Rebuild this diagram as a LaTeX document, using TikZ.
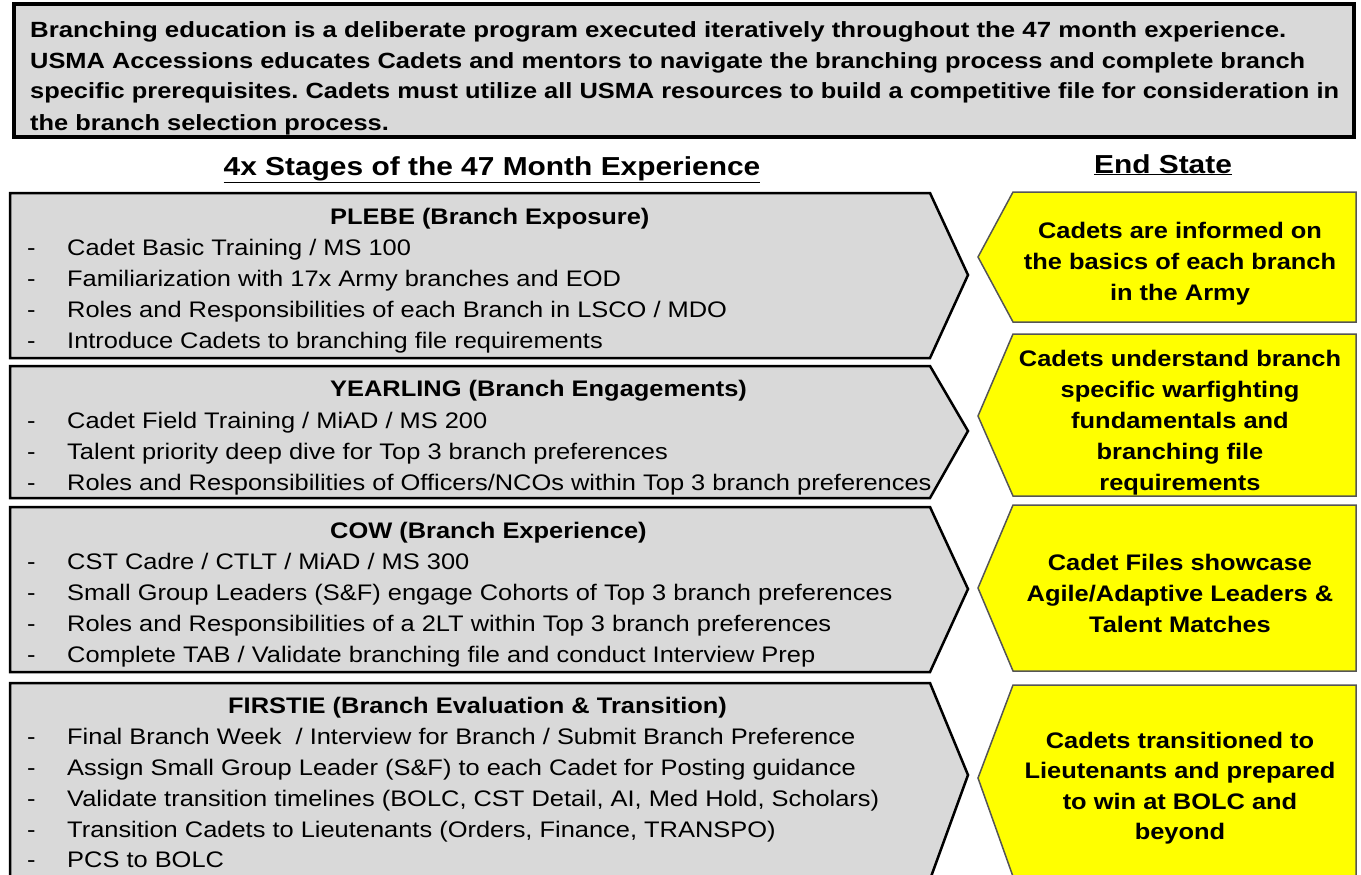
\documentclass[tikz,border=0pt]{standalone}
\usepackage{fontspec}
\setmainfont{Liberation Sans}[FakeStretch=1.13]
\newfontfamily\widefont{Liberation Sans}[FakeStretch=1.173]
\newfontfamily\wideBfont{Liberation Sans}[FakeStretch=1.155]
\newfontfamily\midfont{Liberation Sans}[FakeStretch=1.15]
\frenchspacing
\definecolor{boxgray}{HTML}{D9D9D9}
\definecolor{ydraw}{HTML}{555555}
\definecolor{ybox}{HTML}{FFFF00}
\tikzset{
  gbox/.style={fill=boxgray, draw=black, line width=2.5pt, line join=miter},
  ybox/.style={fill=ybox, draw=ydraw, line width=1.5pt, line join=miter},
  topbox/.style={fill=boxgray, draw=black, line width=4pt},
  topline/.style={anchor=base west, inner sep=0pt, font=\wideBfont\fontsize{22}{26}\selectfont\bfseries},
  toplinewide/.style={anchor=base west, inner sep=0pt, font=\widefont\fontsize{22}{26}\selectfont\bfseries},
  heading/.style={anchor=base, inner sep=0pt, font=\midfont\fontsize{26}{30}\selectfont\bfseries},
  itemtext/.style={anchor=base west, inner sep=0pt, font=\fontsize{22.5}{27}\selectfont},
  dashmark/.style={anchor=base west, inner sep=0pt, font=\fontsize{22.5}{27}\selectfont},
  stitle/.style={anchor=base west, inner sep=0pt, font=\fontsize{22.5}{27}\selectfont\bfseries},
  ytext/.style={anchor=base, inner sep=0pt, font=\fontsize{22.5}{27}\selectfont\bfseries},
}
\newcommand{\itm}[3]{%
  \node[dashmark] (#1d) at (27,#2) {-};
  \node[itemtext] (#1) at (67,#2) {#3};}
\begin{document}
\begin{tikzpicture}[x=1pt,y=-1pt]
\useasboundingbox (0,0) rectangle (1361,875);
\clip (0,0) rectangle (1361,875);

% top box
\draw[topbox] (14,4) rectangle (1354,137);
\node[toplinewide] (t1) at (30,38) {Branching education is a deliberate program executed iteratively throughout the 47 month experience.};
\node[topline] (t2) at (30,69) {USMA Accessions educates Cadets and mentors to navigate the branching process and complete branch};
\node[topline] (t3) at (30,99) {specific prerequisites. Cadets must utilize all USMA resources to build a competitive file for consideration in};
\node[topline] (t4) at (30,130) {the branch selection process.};

% headings
\node[heading] (h1) at (492,175) {\underline{4x Stages of the 47 Month Experience}};
\node[heading] (h2) at (1163,173) {\underline{End State}};

% gray stage arrows
\draw[gbox] (10,193) -- (930,193) -- (968,275) -- (930,358) -- (10,358) -- cycle;
\draw[gbox] (10,366) -- (930,366) -- (968,431) -- (930,498) -- (10,498) -- cycle;
\draw[gbox] (10,507) -- (930,507) -- (968,589) -- (930,672) -- (10,672) -- cycle;
\draw[gbox] (10,683) -- (930,683) -- (968,775) -- (928,885) -- (10,885) -- cycle;

% yellow end-state arrows
\draw[ybox] (1013,192) -- (1356,192) -- (1356,322) -- (1013,322) -- (978,257) -- cycle;
\draw[ybox] (1013,334) -- (1356,334) -- (1356,496) -- (1013,496) -- (978,416) -- cycle;
\draw[ybox] (1013,505) -- (1356,505) -- (1356,671) -- (1013,671) -- (978,588) -- cycle;
\draw[ybox] (1013,685) -- (1356,685) -- (1356,885) -- (1016,885) -- (978,778) -- cycle;

% PLEBE
\node[stitle] (s1) at (330,224) {PLEBE (Branch Exposure)};
\itm{a1}{255}{Cadet Basic Training / MS 100}
\itm{a2}{286}{Familiarization with 17x Army branches and EOD}
\itm{a3}{317}{Roles and Responsibilities of each Branch in LSCO / MDO}
\itm{a4}{348}{Introduce Cadets to branching file requirements}

% YEARLING
\node[stitle] (s2) at (330,396) {YEARLING (Branch Engagements)};
\itm{b1}{428}{Cadet Field Training / MiAD / MS 200}
\itm{b2}{459}{Talent priority deep dive for Top 3 branch preferences}
\itm{b3}{490}{Roles and Responsibilities of Officers/NCOs within Top 3 branch preferences}

% COW
\node[stitle] (s3) at (330,538) {COW (Branch Experience)};
\itm{c1}{569}{CST Cadre / CTLT / MiAD / MS 300}
\itm{c2}{600}{Small Group Leaders (S\&F) engage Cohorts of Top 3 branch preferences}
\itm{c3}{631}{Roles and Responsibilities of a 2LT within Top 3 branch preferences}
\itm{c4}{662}{Complete TAB / Validate branching file and conduct Interview Prep}

% FIRSTIE
\node[stitle] (s4) at (228,713) {FIRSTIE (Branch Evaluation \& Transition)};
\itm{d1}{744}{Final Branch Week~ / Interview for Branch / Submit Branch Preference}
\itm{d2}{775}{Assign Small Group Leader (S\&F) to each Cadet for Posting guidance}
\itm{d3}{806}{Validate transition timelines (BOLC, CST Detail, AI, Med Hold, Scholars)}
\itm{d4}{837}{Transition Cadets to Lieutenants (Orders, Finance, TRANSPO)}
\itm{d5}{867}{PCS to BOLC}

% end states
\node[ytext] (e1a) at (1180,238) {Cadets are informed on};
\node[ytext] (e1b) at (1180,269) {the basics of each branch};
\node[ytext] (e1c) at (1180,300) {in the Army};

\node[ytext] (e2a) at (1180,366) {Cadets understand branch};
\node[ytext] (e2b) at (1180,397) {specific warfighting};
\node[ytext] (e2c) at (1180,428) {fundamentals and};
\node[ytext] (e2d) at (1180,459) {branching file};
\node[ytext] (e2e) at (1180,490) {requirements};

\node[ytext] (e3a) at (1180,570) {Cadet Files showcase};
\node[ytext] (e3b) at (1180,601) {Agile/Adaptive Leaders \&};
\node[ytext] (e3c) at (1180,632) {Talent Matches};

\node[ytext] (e4a) at (1180,748) {Cadets transitioned to};
\node[ytext] (e4b) at (1180,778) {Lieutenants and prepared};
\node[ytext] (e4c) at (1180,809) {to win at BOLC and};
\node[ytext] (e4d) at (1180,839) {beyond};
\end{tikzpicture}
\end{document}
